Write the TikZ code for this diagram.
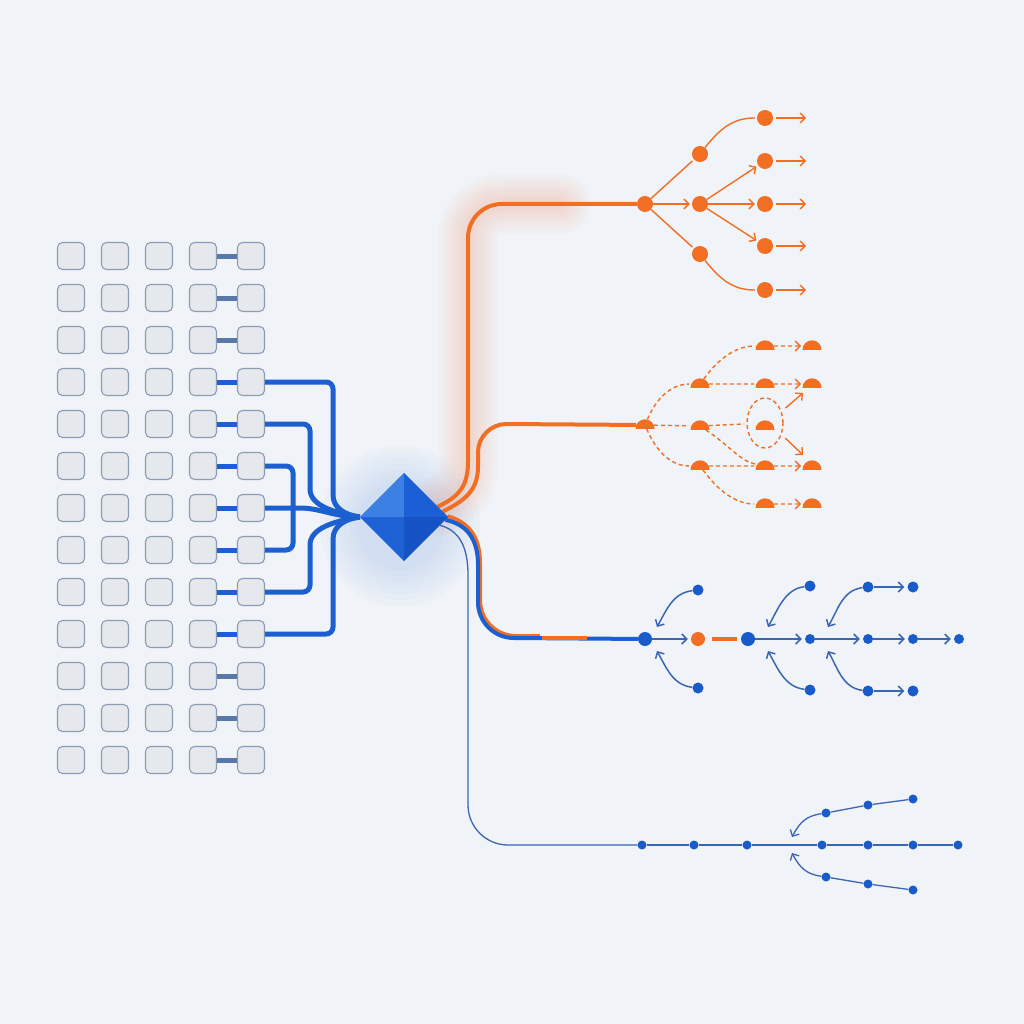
\documentclass[tikz,border=0pt]{standalone}
\usepackage{tikz}
\usetikzlibrary{arrows.meta,shapes.geometric}

\definecolor{bgcol}{HTML}{F0F3F8}
\definecolor{cellfill}{HTML}{E5E8ED}
\definecolor{cellline}{HTML}{8C9CB5}
\definecolor{wireblue}{HTML}{1B5FD1}
\definecolor{stubblue}{HTML}{5878A8}
\definecolor{hotorange}{HTML}{F26E22}
\definecolor{thinblue}{HTML}{3C66B4}
\definecolor{dotblue}{HTML}{1A5BCB}
\definecolor{facetA}{HTML}{3C80E4}
\definecolor{facetB}{HTML}{1A5FD6}
\definecolor{facetC}{HTML}{1E62D6}
\definecolor{facetD}{HTML}{1553C4}

\tikzset{
  cell/.style={rectangle, rounded corners=5pt, minimum size=27pt, inner sep=0pt,
    fill=cellfill, draw=cellline, line width=1.1pt},
  wire/.style={wireblue, line width=5pt, rounded corners=7pt},
  stub/.style={stubblue, line width=5pt},
  feed/.style={hotorange, line width=4pt},
  odot/.style={circle, fill=hotorange, inner sep=0pt, minimum size=16pt},
  ohalf/.style={semicircle, fill=hotorange, inner sep=0pt, minimum width=19pt,
    anchor=chord center, yshift=-5pt},
  ring/.style={ellipse, draw=hotorange, line width=1.4pt, dash pattern=on 4pt off 3pt,
    inner sep=0pt, minimum width=36pt, minimum height=50pt},
  bdot/.style={circle, fill=dotblue, inner sep=0pt, minimum size=#1},
  bdot/.default=10pt,
  oedge/.style={hotorange, line width=1.4pt, shorten >=2pt},
  odash/.style={hotorange, line width=1.4pt, dash pattern=on 4pt off 3pt, shorten >=2pt},
  bedge/.style={thinblue, line width=1.5pt, shorten >=3pt},
  fine/.style={thinblue, line width=1.3pt},
}

\begin{document}
\begin{tikzpicture}[x=1pt, y=-1pt, >={Straight Barb[length=5pt,width=10pt]}]

    % === background ===
    \fill[bgcol] (0,0) rectangle (1024,1024);
    \useasboundingbox (0,0) rectangle (1024,1024);

    % === input grid ===
    \foreach \r in {1,...,13}
      \foreach \c/\x in {1/71,2/115,3/159,4/203,5/251}
        \node[cell] (b-\r-\c) at (\x, {214+42*\r}) {};

    \foreach \r in {1,2,3,11,12,13}
      \draw[stub] (b-\r-4.east) -- (b-\r-5.west);
    \foreach \r in {4,...,10}
      \draw[wireblue, line width=5pt] (b-\r-4.east) -- (b-\r-5.west);

    % === hub glow ===
    \foreach \r in {80,74,...,44}
      \fill[wireblue, opacity=0.018] (400,526) circle (\r);

    \node[diamond, minimum width=88pt, minimum height=88pt, inner sep=0pt, aspect=1] (hub) at (404,517) {};

    % === wires into the hub ===
    \draw[wire] (b-4-5.east) -- (333,382) -- (333,488) .. controls (333,508) and (345,515) .. (hub.west);
    \draw[wire] (b-5-5.east) -- (310,424) -- (310,482) .. controls (310,506) and (335,513) .. (hub.west);
    \draw[wire] (b-6-5.east) -- (293,466) -- (293,550) -- (b-8-5.east);
    \draw[wire] (b-7-5.east) -- (293,508) .. controls (320,508) and (335,517) .. (hub.west);
    \draw[wire] (b-9-5.east) -- (310,592) -- (310,552) .. controls (310,528) and (335,521) .. (hub.west);
    \draw[wire] (b-10-5.east) -- (333,634) -- (333,546) .. controls (333,526) and (345,519) .. (hub.west);

    % === tree 1: solid orange ===
    \node[odot] (t1r) at (645,204) {};
    \node[odot] (t1a) at (700,154) {};
    \node[odot] (t1b) at (700,204) {};
    \node[odot] (t1c) at (700,254) {};
    \foreach \i/\y in {1/118,2/161,3/204,4/246,5/290} {
      \node[odot] (t1d\i) at (765,\y) {};
      \coordinate (t1e\i) at (808,\y);
    }

    \draw[oedge] (t1r) -- (t1a);
    \draw[oedge,->] (t1r) -- (t1b);
    \draw[oedge] (t1r) -- (t1c);
    \draw[oedge] (t1a) .. controls +(22,-28) and +(-30,0) .. (t1d1);
    \draw[oedge,->] (t1b) -- (t1d2);
    \draw[oedge,->] (t1b) -- (t1d3);
    \draw[oedge,->] (t1b) -- (t1d4);
    \draw[oedge] (t1c) .. controls +(22,28) and +(-30,0) .. (t1d5);
    \foreach \i in {1,...,5}
      \draw[oedge,->,shorten <=3pt] (t1d\i) -- (t1e\i);

    % === tree 2: dashed orange ===
    \node[ohalf] (t2r) at (645,424) {};
    \node[ohalf] (t2a) at (700,383) {};
    \node[ohalf] (t2b) at (700,425) {};
    \node[ohalf] (t2c) at (700,465) {};
    \foreach \i/\y in {1/345,2/383,3/425,4/465,5/503}
      \node[ohalf] (t2d\i) at (765,\y) {};
    \foreach \i/\y in {1/345,2/383,4/465,5/503}
      \node[ohalf] (t2e\i) at (812,\y) {};
    \node[ring] (t2ring) at (765,423) {};
    \coordinate (t2q1) at (803,393);
    \coordinate (t2q2) at (803,455);

    \draw[odash] (t2r) .. controls +(15,-35) and +(-22,0) .. (t2a);
    \draw[odash] (t2r) -- (t2b);
    \draw[odash] (t2r) .. controls +(15,35) and +(-22,0) .. (t2c);
    \draw[odash] (t2a) .. controls +(22,-30) and +(-25,0) .. (t2d1);
    \draw[odash] (t2a) -- (t2d2);
    \draw[odash] (t2b) -- (t2ring);
    \draw[odash] (t2b) .. controls +(30,20) and +(-25,-5) .. (t2d4);
    \draw[odash] (t2c) -- (t2d4);
    \draw[odash] (t2c) .. controls +(22,30) and +(-25,0) .. (t2d5);
    \foreach \i in {1,2,4,5}
      \draw[odash,->] (t2d\i) -- (t2e\i);
    \draw[oedge,->,shorten <=5pt,shorten >=0pt] (t2ring.35) -- (t2q1);
    \draw[oedge,->,shorten <=5pt,shorten >=0pt] (t2ring.-35) -- (t2q2);

    % === tree 3: blue with orange link ===
    \node[bdot=14pt] (t3r) at (645,639) {};
    \node[circle, fill=hotorange, inner sep=0pt, minimum size=14pt] (t3o) at (698,639) {};
    \node[bdot=14pt] (t3m) at (748,639) {};
    \node[bdot] (t3a) at (810,639) {};
    \node[bdot] (t3b) at (868,639) {};
    \node[bdot] (t3c) at (913,639) {};
    \node[bdot] (t3d) at (959,639) {};
    \node[bdot=11pt] (t3u1) at (698,590) {};
    \node[bdot=11pt] (t3l1) at (698,688) {};
    \node[bdot=11pt] (t3u2) at (810,586) {};
    \node[bdot=11pt] (t3l2) at (810,690) {};
    \node[bdot=11pt] (t3u3) at (868,587) {};
    \node[bdot=11pt] (t3l3) at (868,691) {};
    \node[bdot=11pt] (t3u4) at (913,587) {};
    \node[bdot=11pt] (t3l4) at (913,691) {};
    \coordinate (t3j1) at (657,627);
    \coordinate (t3k1) at (657,651);
    \coordinate (t3j2) at (768,627);
    \coordinate (t3k2) at (768,651);
    \coordinate (t3j3) at (828,627);
    \coordinate (t3k3) at (828,651);

    \draw[bedge,->] (t3r) -- (t3o);
    \draw[hotorange, line width=4pt, shorten <=7pt, shorten >=4pt] (t3o) -- (t3m);
    \draw[bedge,->] (t3m) -- (t3a);
    \draw[bedge,->] (t3a) -- (t3b);
    \draw[bedge,->] (t3b) -- (t3c);
    \draw[bedge,->] (t3c) -- (t3d);
    \draw[bedge,->] (t3u3) -- (t3u4);
    \draw[bedge,->] (t3l3) -- (t3l4);
    \foreach \i in {1,2,3} {
      \draw[bedge,->,shorten >=0pt] (t3u\i) .. controls +(-25,3) and +(10,-18) .. (t3j\i);
      \draw[bedge,->,shorten >=0pt] (t3l\i) .. controls +(-25,-3) and +(10,18) .. (t3k\i);
    }

    % === tree 4: fine blue ===
    \foreach \i/\x in {1/642,2/694,3/747,4/822,5/868,6/913,7/958}
      \node[bdot=9pt] (f\i) at (\x,845) {};
    \node[bdot=9pt] (fu1) at (826,813) {};
    \node[bdot=9pt] (fu2) at (868,805) {};
    \node[bdot=9pt] (fu3) at (913,799) {};
    \node[bdot=9pt] (fl1) at (826,877) {};
    \node[bdot=9pt] (fl2) at (868,884) {};
    \node[bdot=9pt] (fl3) at (913,890) {};
    \coordinate (fj1) at (792,837);
    \coordinate (fj2) at (792,853);

    \draw[fine] (f1) -- (f2) -- (f3) -- (f4) -- (f5) -- (f6) -- (f7);
    \draw[fine] (fu1) -- (fu2) -- (fu3);
    \draw[fine] (fl1) -- (fl2) -- (fl3);
    \draw[fine,->] (fu1) .. controls +(-20,3) and +(8,-15) .. (fj1);
    \draw[fine,->] (fl1) .. controls +(-20,-3) and +(8,15) .. (fj2);

    % === feeds out of the hub ===
    \foreach \w in {60,54,...,12}
      \draw[hotorange, line width=\w pt, opacity=0.018, line cap=round]
        (hub.17) .. controls (458,497) and (468,487) .. (468,462) -- (468,238)
        .. controls (468,219) and (483,204) .. (502,204) -- (560,204);
    \draw[feed] (hub.17) .. controls (458,497) and (468,487) .. (468,462) -- (468,238)
        .. controls (468,219) and (483,204) .. (502,204) -- (t1r);
    \draw[feed] (hub.8) .. controls (466,500) and (478,490) .. (478,466) -- (478,452)
        .. controls (478,437) and (491,424) .. (506,424) -- (t2r);

    \draw[hotorange, line width=4pt] (hub.1) .. controls (468,522) and (480,536) .. (480,563) -- (480,600)
        .. controls (480,620) and (496,636) .. (516,636) -- (540,636);
    \draw[wireblue, line width=4pt] (hub.-4) .. controls (466,524) and (478,538) .. (478,565) -- (478,602)
        .. controls (478,622) and (494,638) .. (514,638) -- (t3r);
    \draw[hotorange, line width=4pt] (542,638) -- (587,638);

    \draw[fine] (hub.-13) .. controls (458,530) and (468,545) .. (468,575) -- (468,805)
        .. controls (468,827) and (486,845) .. (508,845) -- (f1);

    % === hub facets ===
    \fill[facetA] (hub.north) -- (hub.west) -- (hub.center) -- cycle;
    \fill[facetB] (hub.north) -- (hub.center) -- (hub.east) -- cycle;
    \fill[facetC] (hub.west) -- (hub.south) -- (hub.center) -- cycle;
    \fill[facetD] (hub.center) -- (hub.south) -- (hub.east) -- cycle;

\end{tikzpicture}
\end{document}
